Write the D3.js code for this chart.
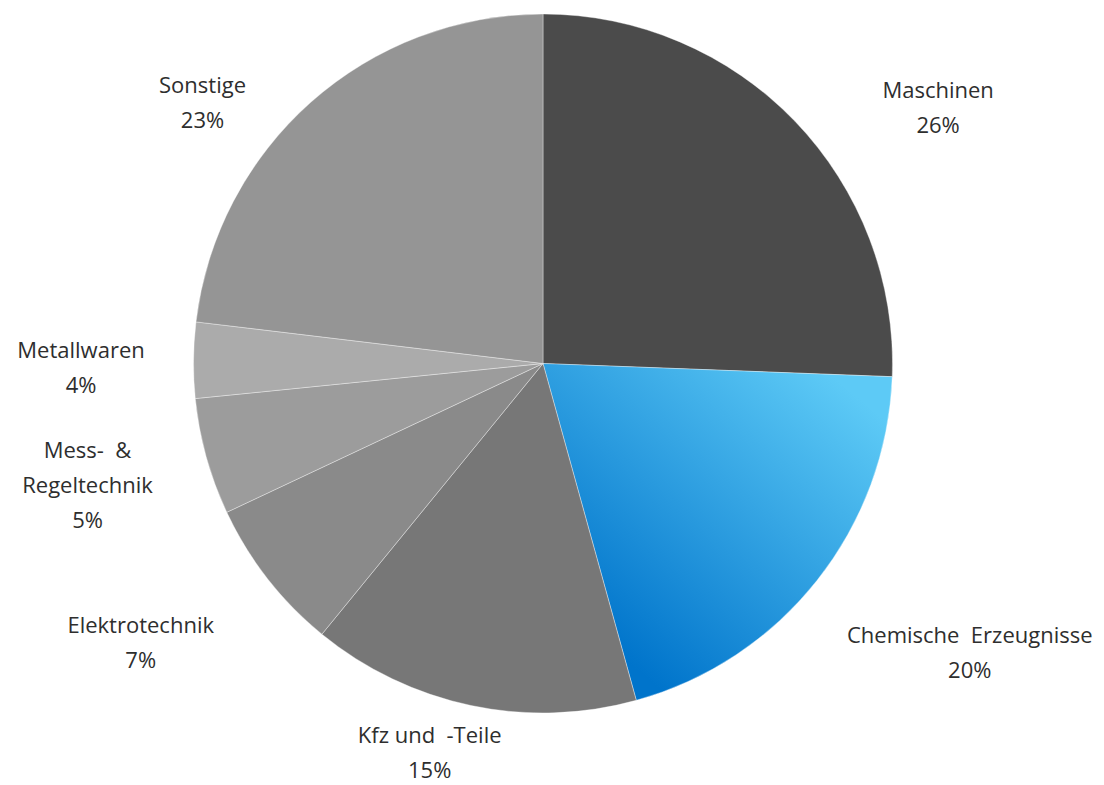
<!DOCTYPE html>
<html>
<head>
<meta charset="utf-8">
<script src="https://cdn.jsdelivr.net/npm/d3@7"></script>
<style>
  body { margin: 0; background: #fff; }
  svg { display: block; }
  .lbl { font-family: "Open Sans", sans-serif; font-size: 22px; fill: #2e2e2e; }
</style>
</head>
<body>
<svg id="chart"></svg>
<script>
// slice data (percent), clockwise from 12 o'clock
var categories = ["Maschinen", "Chemische Erzeugnisse", "Kfz und -Teile", "Elektrotechnik", "Mess- & Regeltechnik", "Metallwaren", "Sonstige"];
var labelLines = [["Maschinen"], ["Chemische  Erzeugnisse"], ["Kfz und  -Teile"], ["Elektrotechnik"], ["Mess-  &", "Regeltechnik"], ["Metallwaren"], ["Sonstige"]];
var values = [25.6, 20.1, 15.2, 7.1, 5.4, 3.5, 23.1];
var colors = ["#4b4b4b", "url(#blueGrad)", "#777777", "#8a8a8a", "#9c9c9c", "#ababab", "#959595"];
// label nudges from the label ring, px
var labelNudge = [[107, 22], [113, 41], [-31, -2], [-87, 33], [-70, 15], [-62, 8], [-75, 39]];

var width = 1104, height = 785,
    cx = 543, cy = 363.5,
    radius = 349.5,
    lineH = 35;

var svg = d3.select("#chart").attr("width", width).attr("height", height);
var g = svg.append("g").attr("transform", "translate(" + cx + "," + cy + ")");

var pie = d3.pie().sort(null).value(function(d) { return d; });
var arcs = pie(values);
var arc = d3.arc().innerRadius(0).outerRadius(radius);
var labelArc = d3.arc().innerRadius(400).outerRadius(400);

// gradient for the blue slice, running from its start edge to its end edge
var blue = arcs[1];
function edgePt(a) { return [Math.sin(a) * radius * 0.95, -Math.cos(a) * radius * 0.95]; }
var p0 = edgePt(blue.startAngle + 0.1), p1 = edgePt(blue.endAngle - 0.05);
var grad = svg.append("defs").append("linearGradient")
    .attr("id", "blueGrad")
    .attr("gradientUnits", "userSpaceOnUse")
    .attr("x1", p0[0]).attr("y1", p0[1])
    .attr("x2", p1[0]).attr("y2", p1[1]);
grad.append("stop").attr("offset", "0%").attr("stop-color", "#5dcaf6");
grad.append("stop").attr("offset", "100%").attr("stop-color", "#0074cb");

g.selectAll("path.slice")
  .data(arcs)
  .enter().append("path")
    .attr("class", "slice")
    .attr("d", arc)
    .attr("fill", function(d, i) { return colors[i]; })
    .attr("stroke", "#fff")
    .attr("stroke-width", 0.6)
    .attr("stroke-opacity", 0.6);

// labels: name line(s) + rounded percent
var lbl = g.selectAll("text.lbl")
  .data(arcs)
  .enter().append("text")
    .attr("class", "lbl")
    .attr("text-anchor", "middle")
    .attr("transform", function(d, i) {
      var c = labelArc.centroid(d);
      return "translate(" + (c[0] + labelNudge[i][0]) + "," + (c[1] + labelNudge[i][1]) + ")";
    });

lbl.each(function(d, i) {
  var lines = labelLines[i].concat([Math.round(values[i]) + "%"]);
  var t = d3.select(this);
  lines.forEach(function(s, k) {
    t.append("tspan")
      .attr("x", 0)
      .attr("y", (k - (lines.length - 1) / 2) * lineH + 7.7)
      .style("white-space", "pre")
      .text(s);
  });
});
</script>
</body>
</html>
